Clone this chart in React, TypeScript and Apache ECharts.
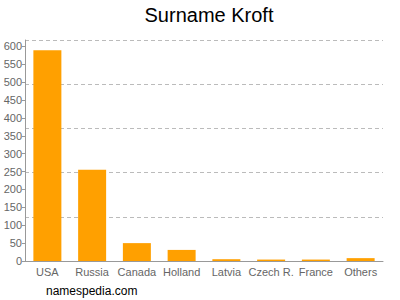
import React, { useEffect, useRef } from "react";
import * as echarts from "echarts";

const categories = ["USA", "Russia", "Canada", "Holland", "Latvia", "Czech R.", "France", "Others"];
const counts = [589, 255, 50, 31, 5, 4, 4, 8];
const yMax = 618;

export default function App() {
  const ref = useRef<HTMLDivElement>(null);
  useEffect(() => {
    const chart = echarts.init(ref.current!, undefined, { renderer: "svg" });
    chart.setOption({
      animation: false,
      textStyle: { fontFamily: "Liberation Sans, Arial, sans-serif" },
      title: {
        text: "Surname Kroft",
        left: 204,
        textAlign: "center",
        top: 0,
        textStyle: { fontSize: 20, fontWeight: "normal", color: "#000", fontFamily: "Liberation Sans, Arial, sans-serif" },
      },
      graphic: [
        {
          type: "text",
          left: 46,
          top: 285,
          style: { text: "namespedia.com", fontSize: 12, fill: "#000", fontFamily: "Liberation Sans, Arial, sans-serif" },
        },
      ],
      grid: { left: 25, right: 17, top: 40, bottom: 39, containLabel: false },
      xAxis: {
        type: "category",
        data: categories,
        axisLine: { lineStyle: { color: "#999" } },
        axisTick: { alignWithLabel: true, length: 3, lineStyle: { color: "#999" } },
        axisLabel: { color: "#666", fontSize: 11, margin: 5, interval: 0 },
      },
      yAxis: [
        {
          type: "value",
          min: 0,
          max: yMax,
          interval: 50,
          axisLine: { show: true, lineStyle: { color: "#999" } },
          axisTick: { show: true, length: 3, lineStyle: { color: "#999" } },
          axisLabel: { color: "#666", fontSize: 11, margin: 3, showMaxLabel: false },
          splitLine: { show: false },
        },
        {
          type: "value",
          min: 0,
          max: yMax,
          interval: yMax / 5,
          position: "left",
          axisLine: { show: false },
          axisTick: { show: false },
          axisLabel: { show: false },
          splitLine: { show: true, lineStyle: { color: "#bbb", type: [4, 3] } },
        },
      ],
      series: [
        {
          type: "bar",
          data: counts,
          barWidth: 28,
          itemStyle: { color: "#FFA000" },
        },
      ],
    });
    return () => chart.dispose();
  }, []);
  return <div ref={ref} style={{ width: 400, height: 300, position: "absolute", left: 0, top: 0 }} />;
}
